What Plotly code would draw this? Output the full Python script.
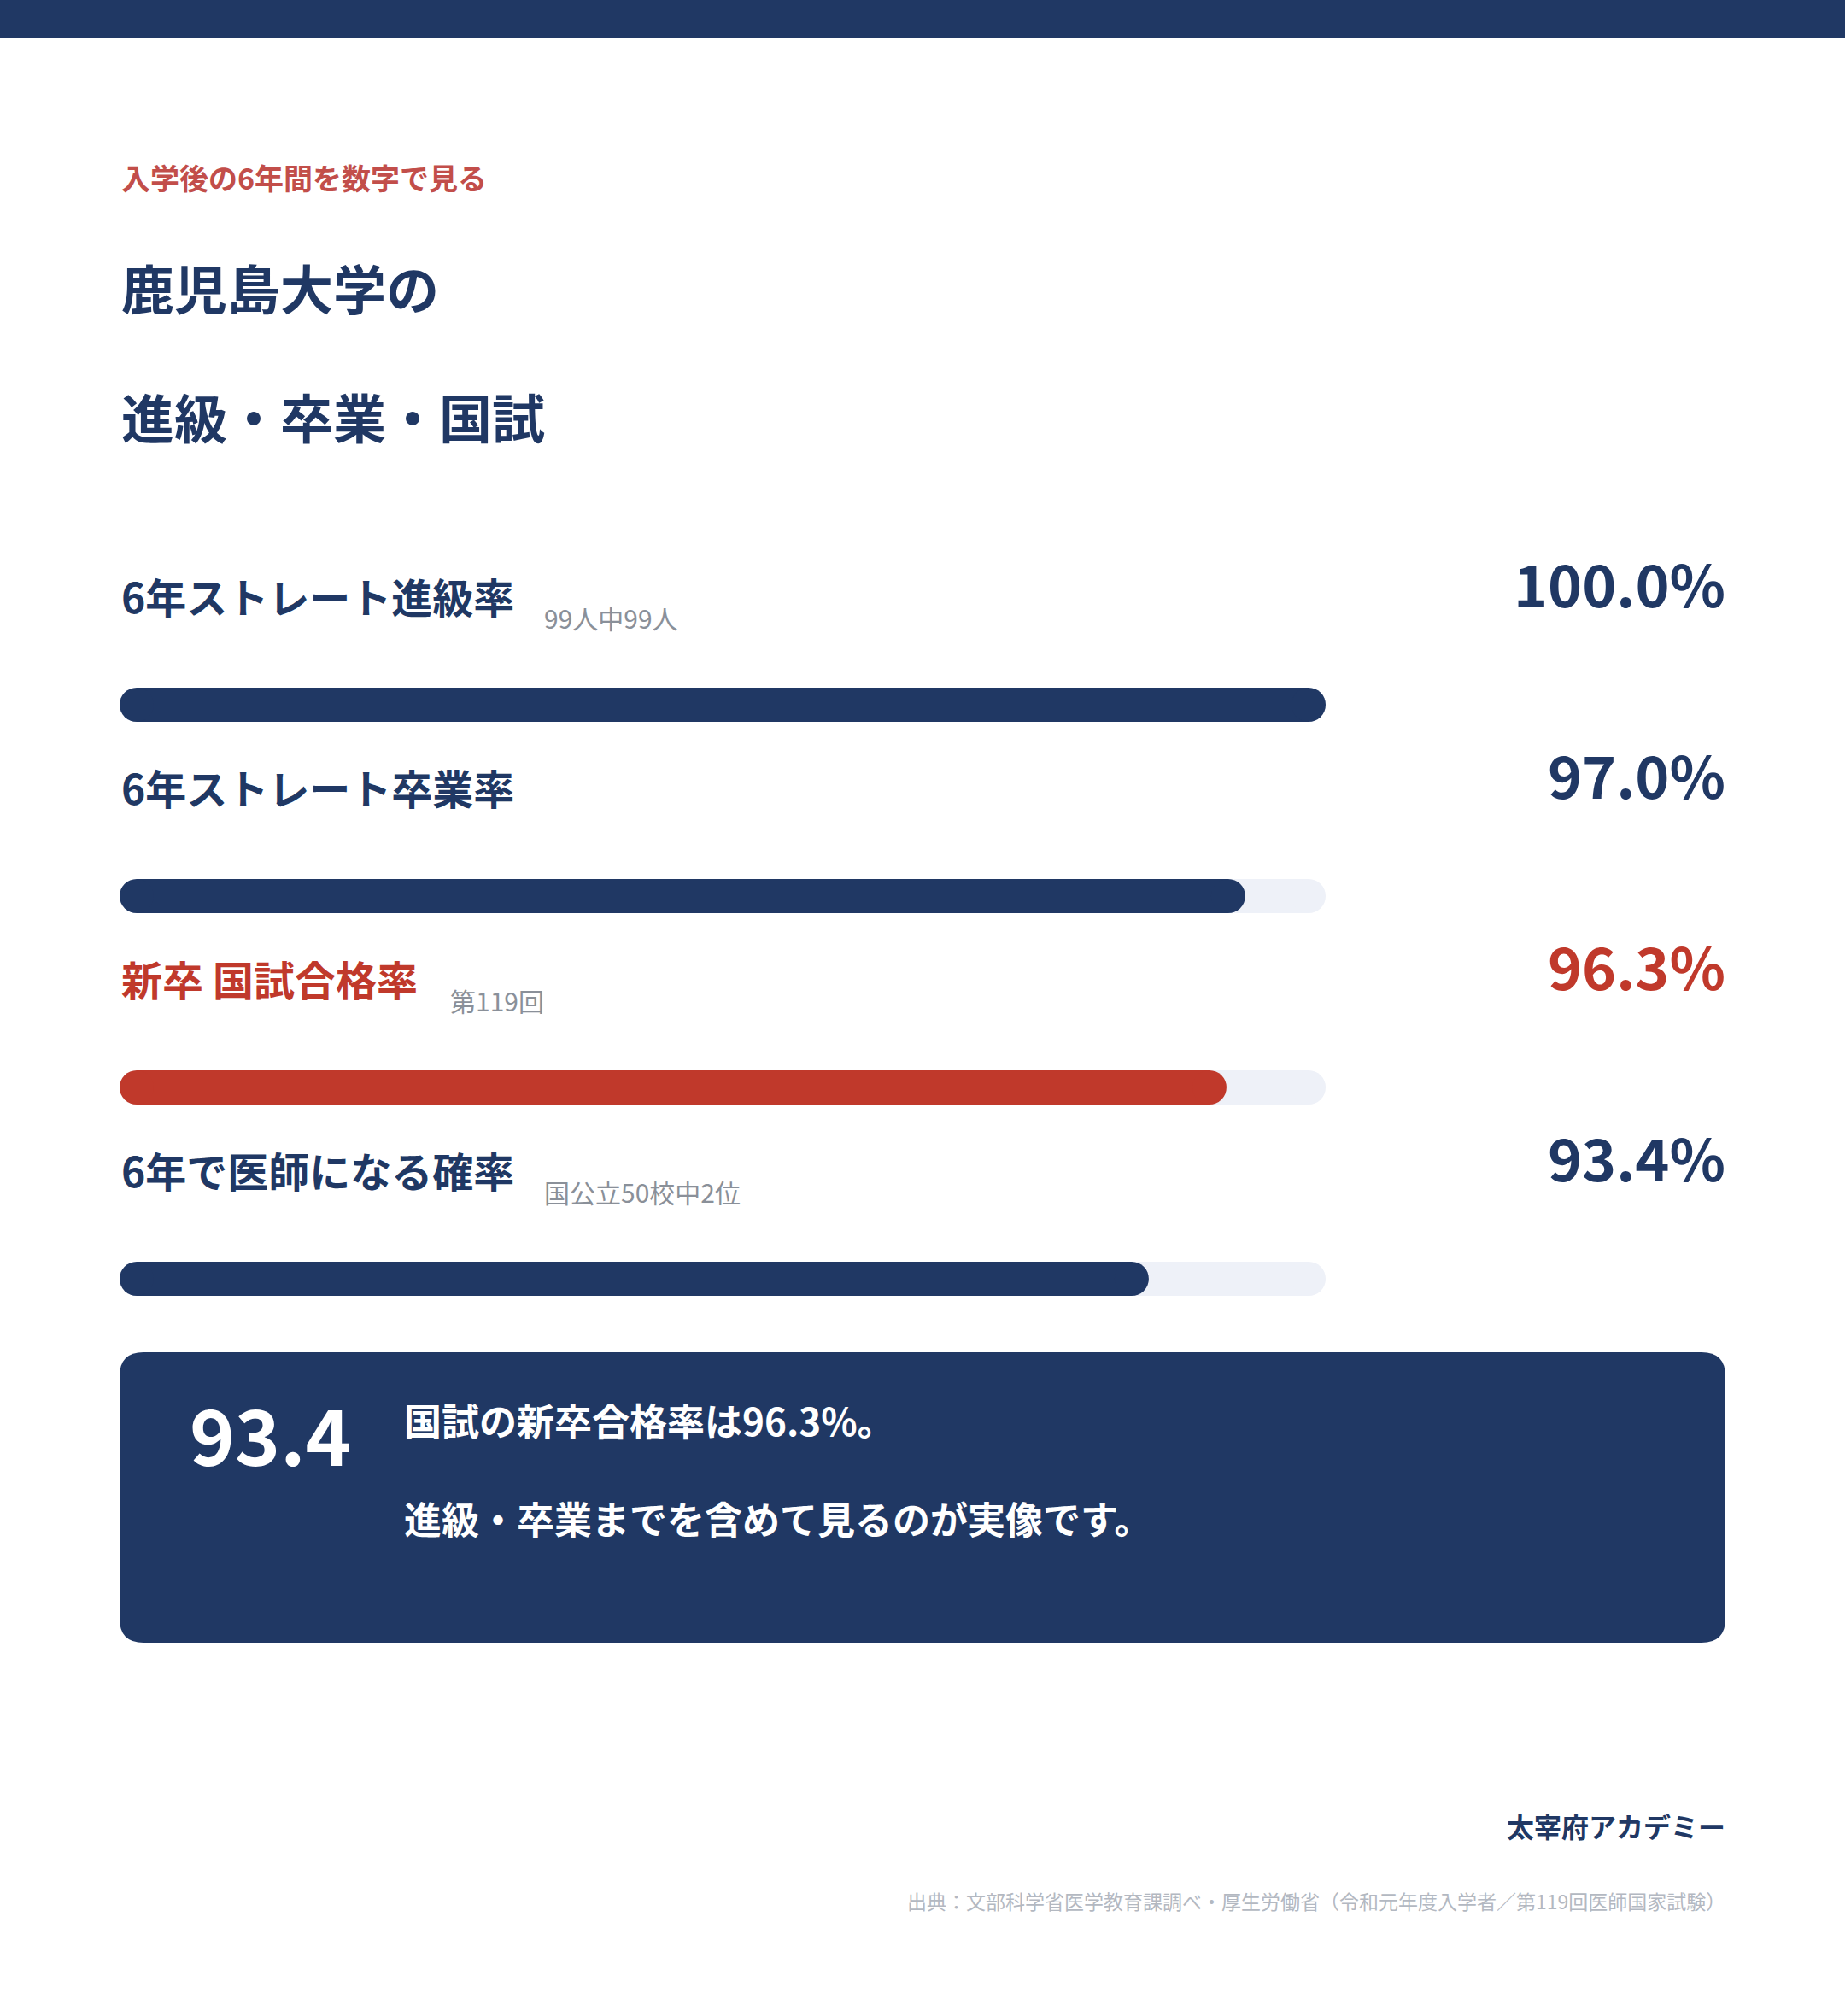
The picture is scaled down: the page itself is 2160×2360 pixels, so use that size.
import plotly.graph_objects as go

# ---- data ----
labels = ["6年ストレート進級率", "6年ストレート卒業率", "新卒 国試合格率", "6年で医師になる確率"]
values = [100.0, 97.0, 96.3, 93.4]
notes = ["99人中99人", "", "第119回", "国公立50校中2位"]
highlight = [False, False, True, False]
axis_min, axis_max = 55, 100

kicker = "入学後の6年間を数字で見る"
title_lines = ["鹿児島大学の", "進級・卒業・国試"]
callout_lines = ["国試の新卒合格率は{:.1f}%。", "進級・卒業までを含めて見るのが実像です。"]
brand = "太宰府アカデミー"
source = "出典：文部科学省医学教育課調べ・厚生労働省（令和元年度入学者／第119回医師国家試験）"

# ---- style ----
W, H = 2160, 2360
FONT = "Noto Sans CJK JP"
NAVY = "#203864"
RED = "#C0392B"
KICKER_RED = "#C24E4A"
TRACK = "#EEF1F8"
GRAY = "#8A9099"
LIGHT = "#B3B8C1"

LEFT, RIGHT = 140, 2022
BAR_L, BAR_R = 140, 1552
BAR_T = 40
ROW0, ROW_GAP = 825, 224


def px(p):
    return p / W


def py(p):
    return 1 - p / H


def text_width(s, size):
    w = 0
    for c in s:
        if c == " ":
            w += 0.25
        elif ord(c) < 0x2E80:
            w += 0.55
        else:
            w += 1.0
    return w * size


def rounded_rect(x0, y0, x1, y1, r):
    pts = [
        f"M {px(x0 + r)},{py(y0)}",
        f"L {px(x1 - r)},{py(y0)}",
        f"Q {px(x1)},{py(y0)} {px(x1)},{py(y0 + r)}",
        f"L {px(x1)},{py(y1 - r)}",
        f"Q {px(x1)},{py(y1)} {px(x1 - r)},{py(y1)}",
        f"L {px(x0 + r)},{py(y1)}",
        f"Q {px(x0)},{py(y1)} {px(x0)},{py(y1 - r)}",
        f"L {px(x0)},{py(y0 + r)}",
        f"Q {px(x0)},{py(y0)} {px(x0 + r)},{py(y0)}",
        "Z",
    ]
    return " ".join(pts)


unit = (BAR_R - BAR_L) / (axis_max - axis_min)
cap = BAR_T / 2 / unit

fig = go.Figure()

for i, (v, hl) in enumerate(zip(values, highlight)):
    col = RED if hl else NAVY
    # background track
    fig.add_trace(go.Scatter(
        x=[axis_min + cap, axis_max - cap], y=[i, i],
        mode="lines+markers",
        line=dict(color=TRACK, width=BAR_T),
        marker=dict(size=BAR_T, color=TRACK, line=dict(width=0)),
        hoverinfo="skip", cliponaxis=False,
    ))
    # value bar
    fig.add_trace(go.Scatter(
        x=[axis_min + cap, v - cap], y=[i, i],
        mode="lines+markers",
        line=dict(color=col, width=BAR_T),
        marker=dict(size=BAR_T, color=col, line=dict(width=0)),
        hoverinfo="skip", cliponaxis=False,
    ))

annotations = []

# header
annotations.append(dict(text=f"<b>{kicker}</b>", x=px(LEFT), y=py(207), xref="paper", yref="paper",
                        xanchor="left", yanchor="middle", showarrow=False,
                        font=dict(family=FONT, size=34, color=KICKER_RED)))
for line, yy in zip(title_lines, [336, 487]):
    annotations.append(dict(text=f"<b>{line}</b>", x=px(LEFT), y=py(yy), xref="paper", yref="paper",
                            xanchor="left", yanchor="middle", showarrow=False,
                            font=dict(family=FONT, size=62, color=NAVY)))

# rows
for i, (lab, v, note, hl) in enumerate(zip(labels, values, notes, highlight)):
    col = RED if hl else NAVY
    annotations.append(dict(text=f"<b>{lab}</b>", x=px(LEFT), y=i, xref="paper", yref="y",
                            xanchor="left", yanchor="middle", yshift=128, showarrow=False,
                            font=dict(family=FONT, size=48, color=col)))
    annotations.append(dict(text=f"<b>{v:.1f}%</b>", x=px(RIGHT), y=i, xref="paper", yref="y",
                            xanchor="right", yanchor="middle", yshift=144, showarrow=False,
                            font=dict(family=FONT, size=68, color=col)))
    if note:
        nx = LEFT + text_width(lab, 48) + 37
        annotations.append(dict(text=note, x=px(nx), y=i, xref="paper", yref="y",
                                xanchor="left", yanchor="middle", yshift=102, showarrow=False,
                                font=dict(family=FONT, size=30, color=GRAY)))

# callout box
annotations.append(dict(text=f"<b>{values[3]:.1f}</b>", x=px(220), y=py(1677), xref="paper", yref="paper",
                        xanchor="left", yanchor="middle", showarrow=False,
                        font=dict(family=FONT, size=90, color="white")))
for line, yy in zip(callout_lines, [1662, 1777]):
    annotations.append(dict(text=f"<b>{line.format(values[2])}</b>", x=px(471), y=py(yy),
                            xref="paper", yref="paper", xanchor="left", yanchor="middle",
                            showarrow=False, font=dict(family=FONT, size=44, color="white")))

# footer
annotations.append(dict(text=f"<b>{brand}</b>", x=px(RIGHT), y=py(2137), xref="paper", yref="paper",
                        xanchor="right", yanchor="middle", showarrow=False,
                        font=dict(family=FONT, size=32, color=NAVY)))
annotations.append(dict(text=source, x=px(RIGHT), y=py(2225), xref="paper", yref="paper",
                        xanchor="right", yanchor="middle", showarrow=False,
                        font=dict(family=FONT, size=23, color=LIGHT)))

shapes = [
    dict(type="rect", xref="paper", yref="paper", x0=0, x1=1, y0=py(45), y1=1,
         fillcolor=NAVY, line=dict(width=0), layer="below"),
    dict(type="path", xref="paper", yref="paper", path=rounded_rect(140, 1583, 2020, 1923, 28),
         fillcolor=NAVY, line=dict(width=0), layer="below"),
]

fig.update_layout(
    width=W, height=H,
    margin=dict(l=0, r=0, t=0, b=0, pad=0),
    paper_bgcolor="white", plot_bgcolor="white",
    showlegend=False,
    xaxis=dict(domain=[px(BAR_L), px(BAR_R)], range=[axis_min, axis_max], visible=False, fixedrange=True),
    yaxis=dict(domain=[0, 1], range=[(H - ROW0) / ROW_GAP, -ROW0 / ROW_GAP], visible=False, fixedrange=True),
    annotations=annotations,
    shapes=shapes,
    font=dict(family=FONT),
)

fig.write_html("out.html", config={"displayModeBar": False},
               post_script="document.body.style.margin='0';")
